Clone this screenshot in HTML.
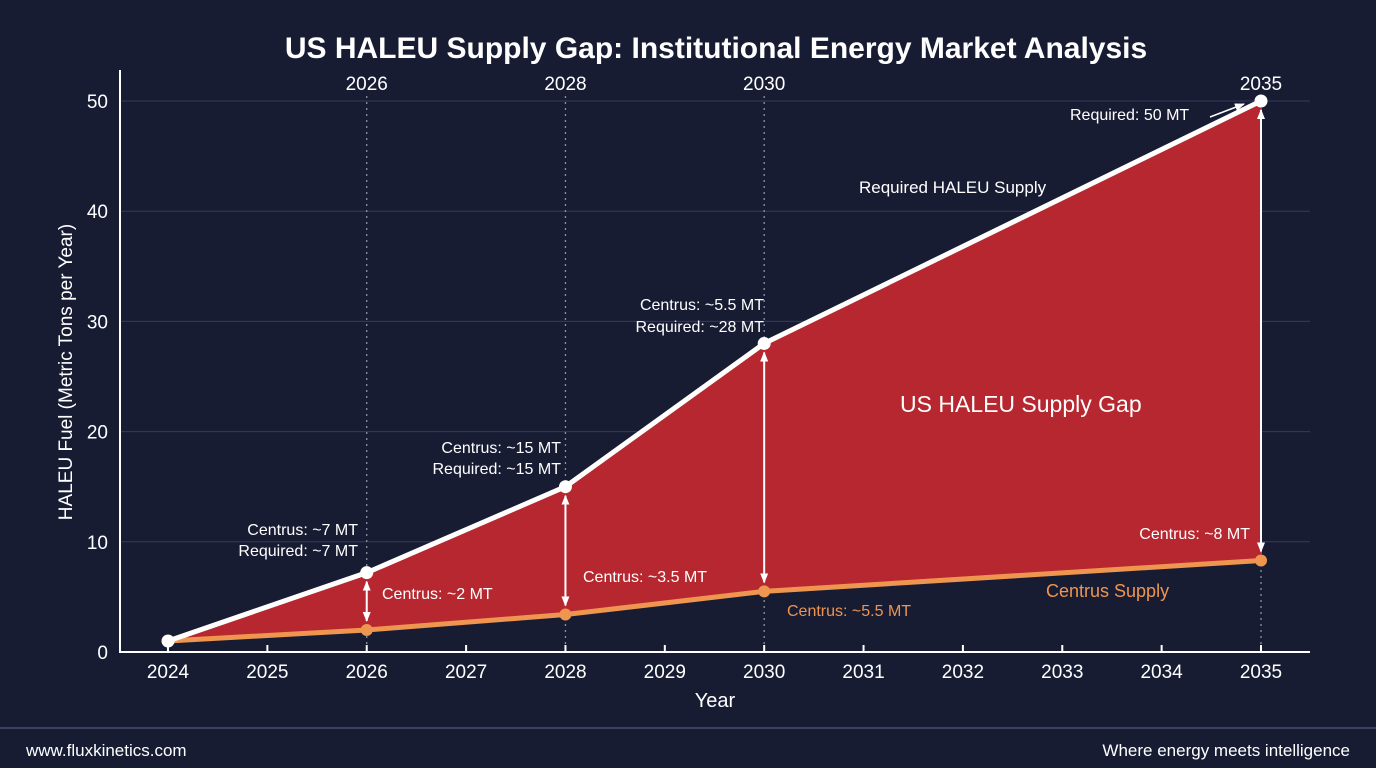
<!DOCTYPE html>
<html><head><meta charset="utf-8"><style>
html,body{margin:0;padding:0;background:#181c33;width:1376px;height:768px;overflow:hidden;font-family:"Liberation Sans",sans-serif}
svg{display:block}
</style></head><body>
<svg id="chart" width="1376" height="768">
<rect width="1376" height="768" fill="#181c33"/>
<text x="716" y="58" font-size="30" font-weight="bold" fill="#fff" text-anchor="middle">US HALEU Supply Gap: Institutional Energy Market Analysis</text>
<g id="grid"></g><g id="marks"></g><g id="axes"></g><g id="labels"></g>
<line x1="0" y1="728" x2="1376" y2="728" stroke="#3a4163" stroke-width="2"/>
<text x="26" y="756" font-size="17" fill="#fff">www.fluxkinetics.com</text>
<text x="1350" y="756" font-size="17" fill="#fff" text-anchor="end">Where energy meets intelligence</text>
</svg>
<script>
const years=[2024,2025,2026,2027,2028,2029,2030,2031,2032,2033,2034,2035];
const yTicks=[0,10,20,30,40,50];
const keyYears=[2024,2026,2028,2030,2035];
const required=[1,7.2,15,28,50];
const centrus=[1,2,3.4,5.5,8.3];
const topYears=[2026,2028,2030,2035];
const NS="http://www.w3.org/2000/svg";
const X=y=>168+(y-2024)*(1261-168)/11;
const Y=v=>652-v*(652-101)/50;
function mk(p,t,a){const e=document.createElementNS(NS,t);for(const k in a)e.setAttribute(k,a[k]);p.appendChild(e);return e;}
const grid=document.getElementById('grid'),marks=document.getElementById('marks'),axes=document.getElementById('axes'),labels=document.getElementById('labels');
yTicks.forEach(v=>{
 if(v>0){const g=mk(grid,'line',{x1:120,x2:1310,y1:Y(v),y2:Y(v),stroke:'#343a58','stroke-width':1});
 
 }
 const t=mk(axes,'text',{x:108,y:Y(v)+7,'font-size':19,fill:'#fff','text-anchor':'end'});t.textContent=v;
 
 
});
topYears.forEach(y=>{
 const l=mk(grid,'line',{x1:X(y),x2:X(y),y1:96,y2:652,stroke:'#8a90a8','stroke-width':1.3,'stroke-dasharray':'2 4'});
 
 
 const t=mk(labels,'text',{x:X(y),y:90,'font-size':19,fill:'#fff','text-anchor':'middle'});t.textContent=y;
 
 
});
let d='M'+keyYears.map((y,i)=>X(y)+','+Y(required[i])).join('L');
for(let i=keyYears.length-1;i>=0;i--)d+='L'+X(keyYears[i])+','+Y(centrus[i]);
const area=mk(marks,'path',{d:d+'Z',fill:'#b6272f'});


const cl=mk(marks,'polyline',{points:keyYears.map((y,i)=>X(y)+','+Y(centrus[i])).join(' '),fill:'none',stroke:'#ee9550','stroke-width':5});


const rl=mk(marks,'polyline',{points:keyYears.map((y,i)=>X(y)+','+Y(required[i])).join(' '),fill:'none',stroke:'#fff','stroke-width':5});


mk(marks,'defs',{}).innerHTML='<marker id="ah" markerUnits="userSpaceOnUse" markerWidth="10" markerHeight="10" refX="9" refY="5" orient="auto-start-reverse"><path d="M0,1L10,5L0,9Z" fill="#fff"/></marker>';
keyYears.forEach((y,i)=>{
 if(i==0)return;
 const a=mk(marks,'line',{x1:X(y),x2:X(y),y1:Y(required[i])+9,y2:Y(centrus[i])-9,stroke:'#fff','stroke-width':2,'marker-start':'url(#ah)','marker-end':'url(#ah)'});
 
 
});
keyYears.forEach((y,i)=>{
 const c=mk(marks,'circle',{cx:X(y),cy:Y(centrus[i]),r:6,fill:'#ee9550'});
 
 
 const r=mk(marks,'circle',{cx:X(y),cy:Y(required[i]),r:6.5,fill:'#fff'});
 
 
});
const ax=mk(axes,'path',{d:'M120,70V652H1310',fill:'none',stroke:'#fff','stroke-width':2});


years.forEach(y=>{
 const tk=mk(axes,'line',{x1:X(y),x2:X(y),y1:645,y2:652,stroke:'#fff','stroke-width':2});
 
 
 const t=mk(axes,'text',{x:X(y),y:678,'font-size':19,fill:'#fff','text-anchor':'middle'});t.textContent=y;
 
 
});
function lab(x,y,s,txt,col,anchor,name){const t=mk(labels,'text',{x:x,y:y,'font-size':s,fill:col,'text-anchor':anchor||'start'});t.textContent=txt;
 
 return t;}
lab(715,707,20,'Year','#fff','middle','x-axis-title');
const yt=lab(0,0,19,'HALEU Fuel (Metric Tons per Year)','#fff','middle','y-axis-title');yt.setAttribute('transform','translate(72,372) rotate(-90)');
lab(358,535,16,'Centrus: ~7 MT','#fff','end','label-2026-centrus');
lab(358,556,16,'Required: ~7 MT','#fff','end','label-2026-required');
lab(382,599,16,'Centrus: ~2 MT','#fff','start','label-2026-gap');
lab(561,453,16,'Centrus: ~15 MT','#fff','end','label-2028-centrus');
lab(561,474,16,'Required: ~15 MT','#fff','end','label-2028-required');
lab(583,582,16,'Centrus: ~3.5 MT','#fff','start','label-2028-gap');
lab(764,310,16,'Centrus: ~5.5 MT','#fff','end','label-2030-centrus');
lab(764,332,16,'Required: ~28 MT','#fff','end','label-2030-required');
lab(787,616,16,'Centrus: ~5.5 MT','#ee9550','start','label-2030-centrus-value');
lab(1070,120,16,'Required: 50 MT','#fff','start','label-2035-required');
lab(1250,539,16,'Centrus: ~8 MT','#fff','end','label-2035-centrus');
lab(859,193,17,'Required HALEU Supply','#fff','start','required-series-label');
lab(1046,597,18,'Centrus Supply','#ee9550','start','centrus-series-label');
lab(900,412,23,'US HALEU Supply Gap','#fff','start','gap-area-label');
const pa=mk(labels,'line',{x1:1210,y1:117,x2:1244,y2:104,stroke:'#fff','stroke-width':1.5,'marker-end':'url(#ah)'});


</script>
</body></html>
